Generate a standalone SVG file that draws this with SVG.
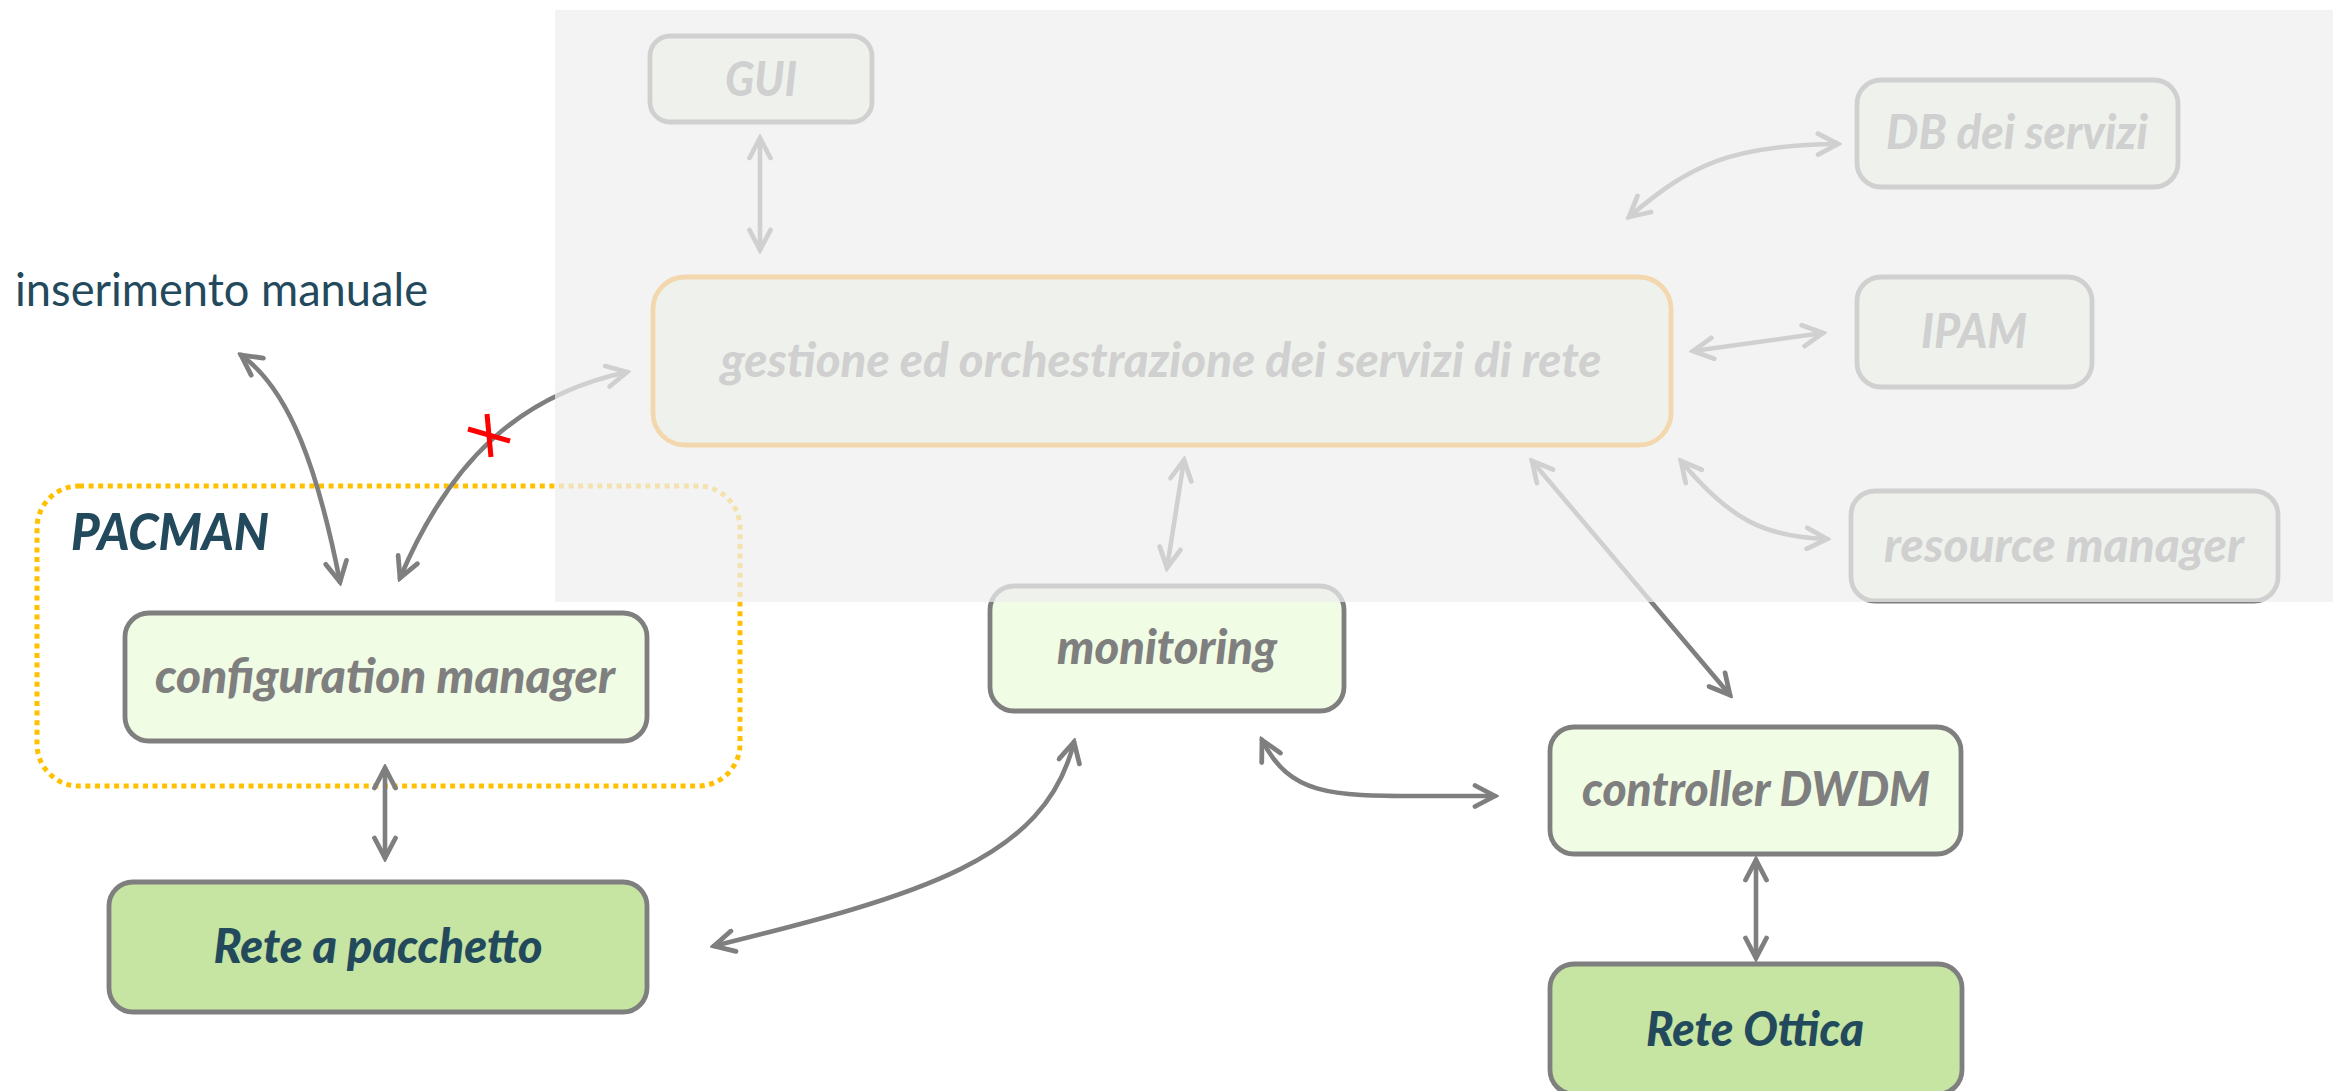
<svg xmlns="http://www.w3.org/2000/svg" width="2333" height="1091" viewBox="0 0 2333 1091">
  <defs>
    <marker id="chev" viewBox="-24 -13 28 26" refX="0" refY="0" markerWidth="28" markerHeight="26" markerUnits="userSpaceOnUse" orient="auto-start-reverse">
      <path d="M -20 -10.5 L 0 0 L -20 10.5" fill="none" stroke="#7f7f7f" stroke-width="4.8" stroke-linecap="round" stroke-linejoin="miter"/>
    </marker>
    <style>
      .box { stroke: #7f7f7f; stroke-width: 4.8; }
      .light { fill: #f1fce4; }
      .dark { fill: #c6e4a2; }
      .lbl { font-family: Lato, "Liberation Sans", "DejaVu Sans", sans-serif; font-weight: 900; font-style: italic; font-size: 47px; text-anchor: middle; }
      .grey { fill: #7f7f7f; }
      .navy { fill: #234a5c; }
      .conn { fill: none; stroke: #7f7f7f; stroke-width: 4.6; stroke-linecap: round; marker-start: url(#chev); marker-end: url(#chev); }
    </style>
  </defs>

  <rect width="2333" height="1091" fill="#ffffff"/>

  <!-- free label -->
  <text id="inserimento" x="15" y="306" font-family="Lato, 'Liberation Sans', sans-serif" font-size="47" fill="#234a5c" textLength="413" lengthAdjust="spacingAndGlyphs">inserimento manuale</text>

  <!-- PACMAN grouping -->
  <g id="pacman">
    <rect x="37" y="486" width="703" height="300" rx="42" fill="none" stroke="#ffc000" stroke-width="5" stroke-dasharray="5 4.6"/>
    <text x="71" y="550" font-family="Lato, 'Liberation Sans', sans-serif" font-weight="900" font-style="italic" font-size="52" fill="#234a5c" textLength="198" lengthAdjust="spacingAndGlyphs">PACMAN</text>
  </g>

  <!-- connectors -->
  <g id="connectors">
    <path class="conn" d="M 241 355 C 290 390, 318 470, 340 582"/>
    <path class="conn" d="M 400 578 C 450 460, 520 395, 627 372"/>
    <path class="conn" d="M 385 768 L 385 858"/>
    <path class="conn" d="M 714 946 C 920 895, 1045 860, 1074 742"/>
    <path class="conn" d="M 1262 740 C 1290 795, 1330 796, 1420 796 L 1495 796"/>
    <path class="conn" d="M 1184 460 L 1167 568"/>
    <path class="conn" d="M 1532 461 L 1730 695"/>
    <path class="conn" d="M 1756 860 L 1756 958"/>
    <path class="conn" d="M 760 138 L 760 250"/>
    <path class="conn" d="M 1629 217 C 1690 165, 1730 145, 1838 144"/>
    <path class="conn" d="M 1693 351 L 1823 333"/>
    <path class="conn" d="M 1681 461 C 1730 520, 1765 537, 1827 539"/>
    <!-- blocked link mark -->
    <g id="blocked" stroke="#ff0000" stroke-width="5" stroke-linecap="butt">
      <line x1="468" y1="429" x2="510" y2="441"/>
      <line x1="487" y1="414" x2="491" y2="457"/>
    </g>
  </g>

  <!-- nodes -->
  <g id="gui">
    <rect class="box light" x="650" y="36" width="222" height="86" rx="20"/>
    <text class="lbl grey" x="761" y="96" textLength="72" lengthAdjust="spacingAndGlyphs">GUI</text>
  </g>
  <g id="gestione">
    <rect class="light" x="653" y="277" width="1018" height="168" rx="32" stroke="#ff9900" stroke-width="4.8"/>
    <text class="lbl grey" x="1161" y="377" textLength="881" lengthAdjust="spacingAndGlyphs">gestione ed orchestrazione dei servizi di rete</text>
  </g>
  <g id="db-servizi">
    <rect class="box light" x="1857" y="80" width="321" height="107" rx="24"/>
    <text class="lbl grey" x="2017" y="149" textLength="262" lengthAdjust="spacingAndGlyphs">DB dei servizi</text>
  </g>
  <g id="ipam">
    <rect class="box light" x="1857" y="277" width="235" height="110" rx="24"/>
    <text class="lbl grey" x="1974" y="348" textLength="106" lengthAdjust="spacingAndGlyphs">IPAM</text>
  </g>
  <g id="resource-manager">
    <rect class="box light" x="1851" y="491" width="427" height="110" rx="24"/>
    <text class="lbl grey" x="2064" y="562" textLength="360" lengthAdjust="spacingAndGlyphs">resource manager</text>
  </g>
  <g id="monitoring">
    <rect class="box light" x="990" y="586" width="354" height="125" rx="24"/>
    <text class="lbl grey" x="1167" y="664" textLength="220" lengthAdjust="spacingAndGlyphs">monitoring</text>
  </g>
  <g id="configuration-manager">
    <rect class="box light" x="125" y="613" width="522" height="128" rx="24"/>
    <text class="lbl grey" x="385" y="693" textLength="460" lengthAdjust="spacingAndGlyphs">configuration manager</text>
  </g>
  <g id="rete-pacchetto">
    <rect class="box dark" x="109" y="882" width="538" height="130" rx="24"/>
    <text class="lbl navy" x="378" y="963" textLength="329" lengthAdjust="spacingAndGlyphs">Rete a pacchetto</text>
  </g>
  <g id="controller-dwdm">
    <rect class="box light" x="1550" y="727" width="411" height="127" rx="24"/>
    <text class="lbl grey" x="1756" y="806" textLength="348" lengthAdjust="spacingAndGlyphs">controller DWDM</text>
  </g>
  <g id="rete-ottica">
    <rect class="box dark" x="1550" y="964" width="412" height="130" rx="24"/>
    <text class="lbl navy" x="1755" y="1046" textLength="218" lengthAdjust="spacingAndGlyphs">Rete Ottica</text>
  </g>

  <!-- translucent veil over the orchestration layer -->
  <rect id="veil" x="555" y="10" width="1778" height="592" fill="#eeeeee" fill-opacity="0.73"/>
</svg>
